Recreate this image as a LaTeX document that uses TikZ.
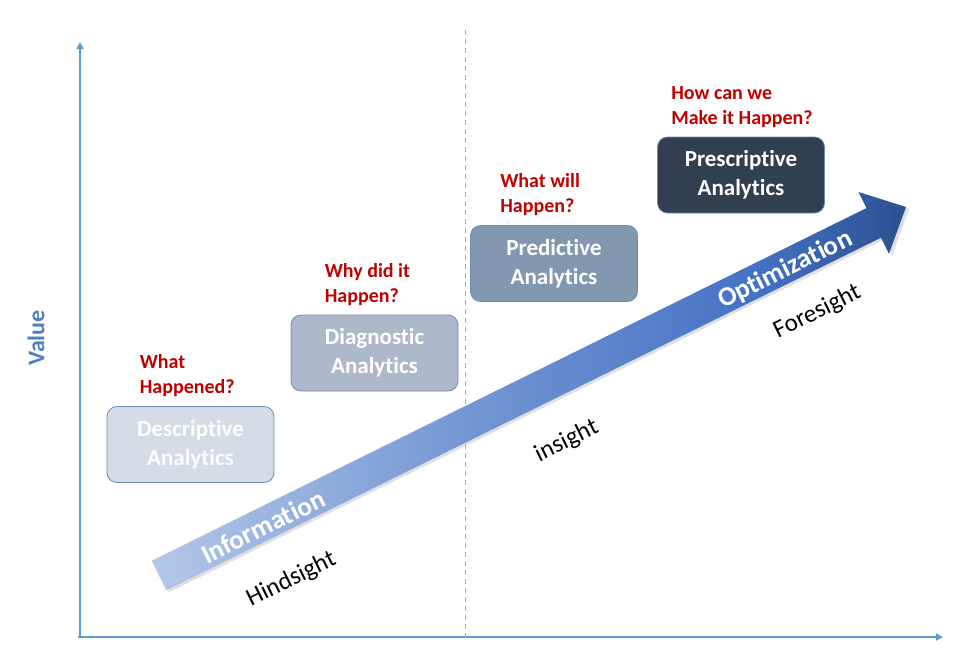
\documentclass[tikz,border=0pt]{standalone}
\usepackage{fontspec}
\setmainfont[Ligatures={NoCommon,NoRequired,NoContextual,NoRare}]{Carlito}
\usepackage{xcolor}
\usetikzlibrary{calc,positioning,arrows.meta}

\definecolor{axisblue}{RGB}{91,155,213}
\definecolor{valblue}{RGB}{79,129,189}
\definecolor{dashblue}{RGB}{135,178,228}
\definecolor{qred}{RGB}{192,0,0}
\definecolor{boxline}{RGB}{110,138,180}
\definecolor{descfill}{RGB}{214,220,229}
\definecolor{diagfill}{RGB}{173,185,202}
\definecolor{predfill}{RGB}{132,151,176}
\definecolor{presfill}{RGB}{50,63,80}
\definecolor{arrlight}{RGB}{180,199,231}
\definecolor{arrmid}{RGB}{68,114,196}
\definecolor{arrdark}{RGB}{44,80,145}
\pgfdeclarehorizontalshading{infoarrow}{100bp}{color(0bp)=(arrlight); color(25bp)=(arrlight);
  color(45bp)=(arrmid!55!arrlight); color(65bp)=(arrmid); color(75bp)=(arrdark); color(100bp)=(arrdark)}

\begin{document}
\begin{tikzpicture}[x=1pt,y=-1pt,
    axis/.style={line width=2.5pt, draw=axisblue, -{Triangle[length=7pt,width=7pt]}},
    stage/.style={rectangle, rounded corners=10pt, draw=boxline, line width=0.8pt,
      minimum width=167pt, minimum height=76pt, align=center, text=#1,
      font=\bfseries\fontsize{23}{29}\selectfont},
    question/.style={text=qred, align=left, inner sep=0pt, anchor=south west,
      font=\bfseries\fontsize{20}{25}\selectfont},
    arrowtxt/.style={text=white, transform shape, font=\bfseries\fontsize{27}{30}\selectfont},
    sight/.style={transform shape, font=\fontsize{25}{28}\selectfont}]
  \useasboundingbox (0,0) rectangle (965,657);
  % axes
  \coordinate (origin) at (80,637);
  \coordinate (ytop) at (80,42);
  \coordinate (xend) at (943,637);
  \draw[axis] (origin) -- (ytop);
  \draw[axis] ($(origin)+(-2,0)$) -- (xend);
  \node[rotate=90, text=valblue, font=\bfseries\fontsize{24}{26}\selectfont] (value) at (36,338) {Value};
  % divider
  \coordinate (dtop) at (465,30);
  \coordinate (dbot) at (465,640);
  \draw[dashblue, line width=0.8pt, dash pattern=on 5pt off 4pt] (dtop) -- (dbot);
  % the big arrow
  \begin{scope}[shift={(159,575.5)}, rotate=26.26]
    \fill[black!25, opacity=0.5, xshift=2pt, yshift=-3pt]
      (0,-16.5) -- (797,-16.5) -- (797,-34.5) -- (833,0) -- (797,34.5) -- (797,16.5) -- (0,16.5) -- cycle;
    \shade[shading=infoarrow]
      (0,-16.5) -- (797,-16.5) -- (797,-34.5) -- (833,0) -- (797,34.5) -- (797,16.5) -- (0,16.5) -- cycle;
    \node[arrowtxt] (info) at (115,2) {Information};
    \node[arrowtxt] (optim) at (697,3) {Optimization};
    \node[sight] (hind) at (117,62) {Hindsight};
    \node[sight] (ins) at (425,60) {insight};
    \node[sight] (fore) at (707,55) {Foresight};
  \end{scope}
  % stages
  \node[stage=white!94!descfill, fill=descfill] (desc) at (190.5,444.5) {Descriptive\\Analytics};
  \node[stage=white, fill=diagfill] (diag) at (374.5,353) {Diagnostic\\Analytics};
  \node[stage=white, fill=predfill] (pred) at (554,263.5) {Predictive\\Analytics};
  \node[stage=white, fill=presfill] (pres) at (741,175) {Prescriptive\\Analytics};
  % questions
  \node[question] (q1) at ($(desc.north west)+(33,-9)$) {What\\Happened?};
  \node[question] (q2) at ($(diag.north west)+(34,-9)$) {Why did it\\Happen?};
  \node[question] (q3) at ($(pred.north west)+(30,-9)$) {What will\\Happen?};
  \node[question] (q4) at ($(pres.north west)+(14,-9)$) {How can we\\Make it Happen?};
\end{tikzpicture}
\end{document}
